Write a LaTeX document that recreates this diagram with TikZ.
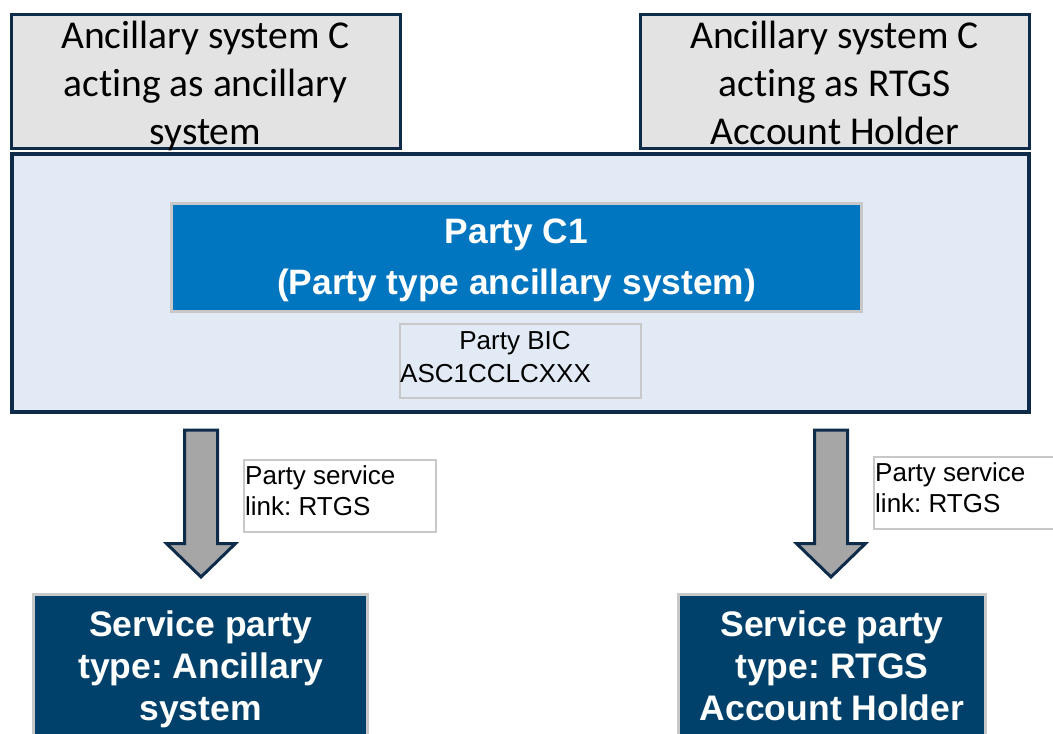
\documentclass[tikz,border=0pt]{standalone}
\usepackage{fontspec}
\setmainfont{Liberation Sans}
\newfontfamily\calibri[Ligatures={NoCommon,NoRare,NoDiscretionary}]{Carlito}
\frenchspacing
\definecolor{navy}{RGB}{14,44,74}
\definecolor{topfill}{RGB}{227,227,227}
\definecolor{bigfill}{RGB}{225,234,245}
\definecolor{partyblue}{RGB}{0,117,192}
\definecolor{lightgray}{RGB}{200,200,200}
\definecolor{servfill}{RGB}{0,65,107}
\definecolor{arrowfill}{RGB}{166,166,166}
\newcommand{\nodepth}[1]{\raisebox{0pt}[\height][0pt]{#1}}
\tikzset{
  topbox/.style={draw=navy, line width=3pt, fill=topfill, minimum width=389pt, minimum height=134pt, inner sep=0pt},
  toptext/.style={align=center, inner sep=0pt, font=\calibri\fontsize{39.5}{48}\selectfont},
  bigbox/.style={draw=navy, line width=3.5pt, fill=bigfill, minimum width=1017pt, minimum height=258pt, inner sep=0pt},
  partybox/.style={draw=lightgray, line width=3pt, fill=partyblue, minimum width=690pt, minimum height=108pt, inner sep=0pt},
  partytext/.style={align=center, text=white, inner sep=0pt, font=\bfseries\fontsize{35.3}{51}\selectfont},
  bicbox/.style={draw=lightgray, line width=2pt, minimum width=241pt, minimum height=74pt, inner sep=0pt},
  bictext/.style={font=\fontsize{26}{31}\selectfont, inner sep=0pt},
  lblbox/.style={draw=lightgray, line width=2pt, fill=white, minimum height=72pt, inner sep=0pt},
  lbltext/.style={align=left, inner sep=0pt, font=\fontsize{26}{31}\selectfont},
  servbox/.style={draw=lightgray, line width=3pt, fill=servfill, minimum height=144pt, inner sep=0pt},
  servtext/.style={align=center, text=white, inner sep=0pt, font=\bfseries\fontsize{35.5}{42}\selectfont},
  blockarrow/.style={draw=navy, line width=3pt, fill=arrowfill, line join=miter},
}
\begin{document}
\begin{tikzpicture}[x=1pt,y=-1pt]
\useasboundingbox (0,0) rectangle (1053,734);
\clip (0,0) rectangle (1053,734);
\fill[white] (0,0) rectangle (1053,734);

% top boxes
\node[topbox] (asA) at (205.5,81) {};
\node[toptext] (asAt) at (205.5,83) {Ancillary system C\\acting as ancillary\\\nodepth{system}};
\node[topbox] (asR) at (834.5,81) {};
\node[toptext] (asRt) at (834.5,83) {Ancillary system C\\acting as RTGS\\Account Holder};

% big box
\node[bigbox] (party) at (520.5,283) {};
\node[partybox] (c1) at (516.5,257.5) {};
\node[partytext] (c1t) at (516.5,260) {Party C1\\(Party type ancillary system)};
\node[bicbox] (bic) at (520.5,361) {};
\node[bictext, anchor=base] (bic1) at (515,349) {Party BIC};
\node[bictext, anchor=base west] (bic2) at (400,382) {ASC1CCLCXXX};

% arrows
\coordinate (aL) at (201,430);
\coordinate (aR) at (831,430);
\draw[blockarrow] (aL) ++(-16.5,0) -- ++(0,113.5) -- ++(-18,0) -- (201,577) -- (235.5,543.5) -- (217.5,543.5) -- (217.5,430) -- cycle;
\draw[blockarrow] (aR) ++(-16.5,0) -- ++(0,113.5) -- ++(-18,0) -- (831,577) -- (865.5,543.5) -- (847.5,543.5) -- (847.5,430) -- cycle;

% labels
\node[lblbox, minimum width=192pt, anchor=north west] (lblL) at (243,459) {};
\node[lbltext, anchor=base west] (lblLt) at (245,515) {Party service\\link: RTGS};
\node[lblbox, minimum width=200pt, anchor=north west] (lblR) at (873,456) {};
\node[lbltext, anchor=base west] (lblRt) at (875,512) {Party service\\link: RTGS};

% service party boxes
\node[servbox, minimum width=334pt] (spA) at (200.5,666) {};
\node[servtext] (spAt) at (200.5,669.5) {Service party\\type: Ancillary\\system};
\node[servbox, minimum width=307pt] (spR) at (832,666) {};
\node[servtext] (spRt) at (832,665.75) {Service party\\type: RTGS\\Account Holder};
\end{tikzpicture}
\end{document}
